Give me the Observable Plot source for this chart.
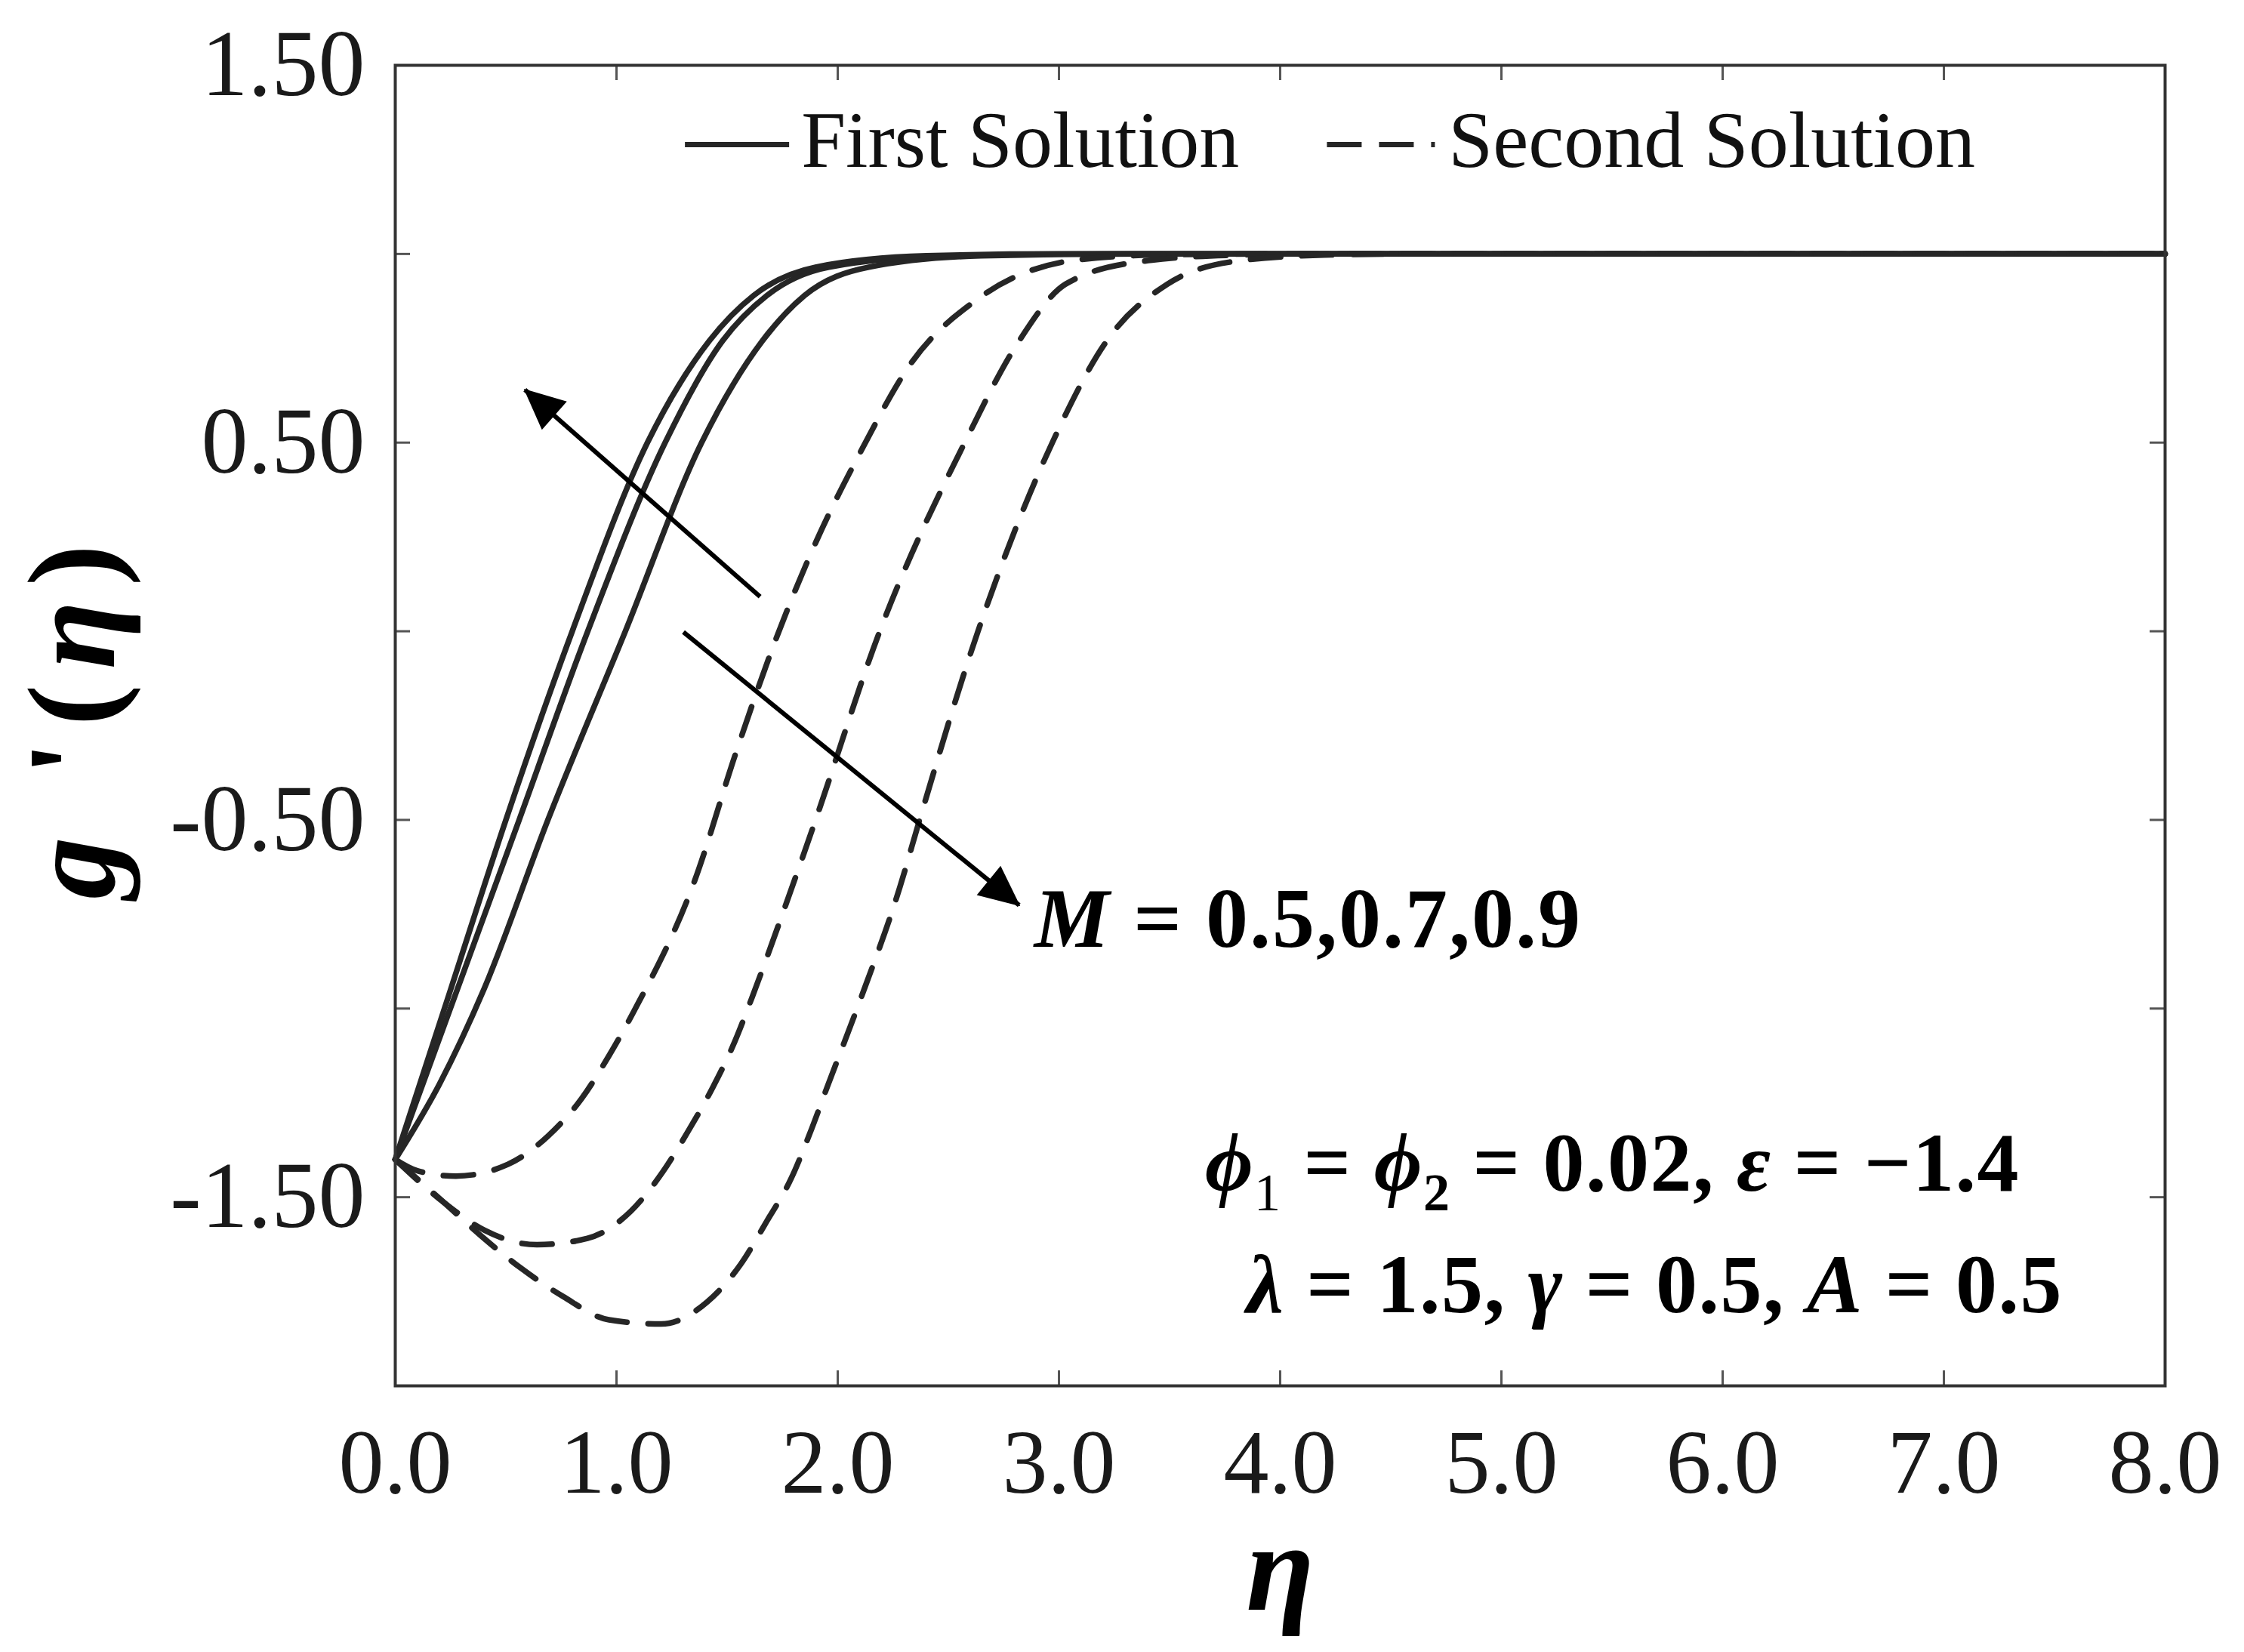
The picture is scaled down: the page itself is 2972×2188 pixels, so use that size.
<!DOCTYPE html>
<html><head><meta charset="utf-8">
<script src="https://cdn.jsdelivr.net/npm/d3@7"></script>
<script src="https://cdn.jsdelivr.net/npm/@observablehq/plot@0.6"></script>
<style>
html,body{margin:0;padding:0;background:#fff;}
#chart svg{display:block;}
</style>
</head><body><div id="chart"></div>
<script>
// ---- data: [eta, g'(eta)] ----
const firstM05 = [[0,-1.4],[0.2,-1.2],[0.4,-0.95],[0.69,-0.5],[1.04,0.0],[1.385,0.5],[1.66,0.77],[1.85,0.89],[2.14,0.965],[2.65,0.995],[3.4,1.0],[8,1.0]];
const firstM07 = [[0,-1.4],[0.28,-0.95],[0.56,-0.5],[0.87,0.0],[1.22,0.5],[1.48,0.77],[1.68,0.89],[1.96,0.965],[2.5,0.995],[3.2,1.0],[8,1.0]];
const firstM09 = [[0,-1.4],[0.25,-0.95],[0.5,-0.5],[0.8,0.0],[1.14,0.5],[1.42,0.77],[1.62,0.89],[1.9,0.965],[2.4,0.995],[3.0,1.0],[8,1.0]];
const secondM05 = [[0,-1.4],[0.1,-1.43],[0.274,-1.444],[0.509,-1.413],[0.692,-1.337],[0.843,-1.238],[0.966,-1.125],[1.078,-1.008],[1.354,-0.66],[1.537,-0.327],[1.72,-0.022],[1.902,0.237],[2.101,0.473],[2.33,0.709],[2.634,0.881],[3.092,0.985],[3.5,0.998],[4.0,1.0],[8,1.0]];
const secondM07 = [[0,-1.4],[0.222,-1.515],[0.405,-1.588],[0.64,-1.626],[0.869,-1.609],[1.065,-1.537],[1.209,-1.433],[1.325,-1.324],[1.437,-1.207],[1.535,-1.087],[1.613,-0.97],[1.75,-0.75],[1.9,-0.5],[2.19,0],[2.574,0.5],[2.817,0.767],[3.03,0.92],[3.37,0.98],[3.8,0.997],[4.2,1.0],[8,1.0]];
const secondM09 = [[0,-1.4],[0.222,-1.515],[0.385,-1.601],[0.568,-1.688],[0.758,-1.763],[0.966,-1.825],[1.202,-1.836],[1.411,-1.777],[1.561,-1.678],[1.679,-1.564],[1.789,-1.451],[1.874,-1.331],[1.953,-1.207],[2.1,-0.98],[2.28,-0.68],[2.37,-0.5],[2.634,0],[2.97,0.5],[3.213,0.767],[3.49,0.92],[3.79,0.98],[4.2,0.997],[4.6,1.0],[8,1.0]];

const xTicks = [0,1,2,3,4,5,6,7,8];
const yTicks = [1.5,1.0,0.5,0,-0.5,-1.0,-1.5,-2.0];
const yTickLabels = [1.5,0.5,-0.5,-1.5];
const legendLabels = ["First Solution","Second Solution"];
const mLabel = "M = 0.5,0.7,0.9";
const paramLine1 = "ϕ1 = ϕ2 = 0.02, ε = −1.4";
const paramLine2 = "λ = 1.5, γ = 0.5, A = 0.5";
const yTitle = "g '(η)";
const xTitle = "η";

// ---- build tables ----
const series = [
  {sol:"first", M:0.5, pts:firstM05},
  {sol:"first", M:0.7, pts:firstM07},
  {sol:"first", M:0.9, pts:firstM09},
  {sol:"second", M:0.5, pts:secondM05},
  {sol:"second", M:0.7, pts:secondM07},
  {sol:"second", M:0.9, pts:secondM09}
];
const rows = series.flatMap(s => s.pts.map(([eta,g]) => ({eta, g, M:s.M, sol:s.sol})));
const firstRows = rows.filter(d => d.sol === "first");
const secondRows = rows.filter(d => d.sol === "second");

const W = 2972, H = 2188;
const mL = 523, mR = 105, mT = 86, mB = 353;
const plotW = W - mL - mR, plotH = H - mT - mB;
const tickLen = 20;
const ink = "#262626";
const serif = "'Liberation Serif','Times New Roman',serif";

const chart = Plot.plot({
  width: W, height: H,
  marginLeft: mL, marginRight: mR, marginTop: mT, marginBottom: mB,
  style: {fontFamily: serif, background: "#fff", color: ink},
  x: {domain: [0, 8]},
  y: {domain: [-2, 1.5]},
  marks: [
    // inward ticks
    Plot.tickY(yTicks, {stroke: "#555", strokeWidth: 3, insetRight: plotW - tickLen}),
    Plot.tickY(yTicks, {stroke: "#555", strokeWidth: 3, insetLeft: plotW - tickLen}),
    Plot.tickX(xTicks, {stroke: "#555", strokeWidth: 3, insetTop: plotH - tickLen}),
    Plot.tickX(xTicks, {stroke: "#555", strokeWidth: 3, insetBottom: plotH - tickLen}),
    Plot.axisY(yTickLabels, {tickSize: 0, tickPadding: 40, fontSize: 124, tickFormat: d => d.toFixed(2), label: null, fill: "#1a1a1a"}),
    Plot.axisX(xTicks, {tickSize: 0, tickPadding: 56, fontSize: 120, tickFormat: d => d.toFixed(1), label: null, fill: "#1a1a1a"}),
    // curves
    Plot.line(firstRows, {x: "eta", y: "g", z: "M", curve: "monotone-x", stroke: ink, strokeWidth: 7.5}),
    Plot.line(secondRows, {x: "eta", y: "g", z: "M", curve: "monotone-x", stroke: ink, strokeWidth: 7.5, strokeDasharray: "40,28"}),
    Plot.frame({stroke: "#333", strokeWidth: 4}),
    // legend
    Plot.ruleY([1.29], {x1: 1.311, x2: 1.782, stroke: ink, strokeWidth: 7}),
    Plot.ruleY([1.29], {x1: 4.213, x2: 4.701, stroke: ink, strokeWidth: 7, strokeDasharray: "46,23"}),
    Plot.text([legendLabels[0]], {x: 1.835, y: 1.298, textAnchor: "start", fontSize: 106, fill: "#111"}),
    Plot.text([legendLabels[1]], {x: 4.76, y: 1.298, textAnchor: "start", fontSize: 106, fill: "#111"}),
    // arrows (shaft; filled heads added below)
    Plot.link([0], {x1: 1.649, y1: 0.0915, x2: 0.586, y2: 0.640, stroke: "#000", strokeWidth: 6}),
    Plot.link([0], {x1: 1.3025, y1: -0.002, x2: 2.820, y2: -0.726, stroke: "#000", strokeWidth: 6}),
    // annotations
    Plot.text([mLabel], {x: 2.888, y: -0.764, textAnchor: "start", fontSize: 112, fontWeight: "bold", fill: "#000"}),
    Plot.text([paramLine1], {x: 3.66, y: -1.413, textAnchor: "start", fontSize: 110, fontWeight: "bold", fill: "#000"}),
    Plot.text([paramLine2], {x: 3.848, y: -1.734, textAnchor: "start", fontSize: 110, fontWeight: "bold", fill: "#000"}),
    // axis titles
    Plot.text([yTitle], {frameAnchor: "left", dx: -425, dy: 230, rotate: -90, fontSize: 165, fontWeight: "bold", fill: "#000"}),
    Plot.text([xTitle], {frameAnchor: "bottom", dy: 296, fontSize: 165, fontWeight: "bold", fontStyle: "italic", fill: "#000"})
  ]
});
document.getElementById("chart").appendChild(chart);

// ---- rich text post-processing (italic symbols, subscripts) ----
const svg = d3.select(chart);
function rich(content, parts, extra) {
  svg.selectAll("text").filter(function() { return this.textContent === content; }).each(function() {
    const t = d3.select(this);
    t.text(null);
    if (extra) extra(t);
    parts.forEach(p => {
      const ts = t.append("tspan").text(p.t);
      if (p.i) ts.attr("font-style", "italic");
      if (p.w) ts.attr("font-weight", p.w);
      if (p.fs) ts.attr("font-size", p.fs);
      if (p.dy) ts.attr("dy", p.dy);
    });
  });
}
const spaced = px => t => t.style("letter-spacing", px + "px");
rich(mLabel, [{t: "M", i: 1}, {t: " = 0.5,0.7,0.9"}], spaced(2));
rich(paramLine1, [
  {t: "ϕ", i: 1}, {t: "1", fs: 70, dy: 26, w: "normal"}, {t: " = ", dy: -26},
  {t: "ϕ", i: 1}, {t: "2", fs: 70, dy: 26}, {t: " = 0.02, ", dy: -26},
  {t: "ε", i: 1}, {t: " = −1.4"}
], spaced(1.5));
rich(paramLine2, [
  {t: "λ", i: 1}, {t: " = 1.5, "}, {t: "γ", i: 1}, {t: " = 0.5, "}, {t: "A", i: 1}, {t: " = 0.5"}
], spaced(1.5));
rich(yTitle, [{t: "g", i: 1}, {t: " '("}, {t: "η", i: 1}, {t: ")"}], spaced(20));

// filled arrowheads
const defs = svg.insert("defs", ":first-child");
defs.append("marker")
  .attr("id", "headFilled")
  .attr("markerUnits", "userSpaceOnUse")
  .attr("viewBox", "-2 -27 56 54")
  .attr("refX", 52).attr("refY", 0)
  .attr("markerWidth", 56).attr("markerHeight", 54)
  .attr("orient", "auto")
  .append("path").attr("d", "M54,0L0,-25L0,25Z").attr("fill", "#000");
svg.selectAll('g[aria-label="link"] path').attr("marker-end", "url(#headFilled)");
</script>
</body></html>
